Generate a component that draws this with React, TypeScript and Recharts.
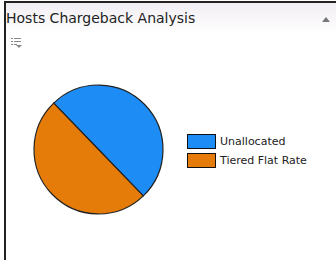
import { PieChart, Pie, Cell, Legend } from "recharts";

const categories = ["Unallocated", "Tiered Flat Rate"];
const values = [50, 50];
const colors = ["#1e8cf5", "#e57c0a"];
const title = "Hosts Chargeback Analysis";

const data = categories.map((name, i) => ({ name, value: values[i] }));

const LegendBox = () => (
  <div style={{ fontFamily: "DejaVu Sans", fontSize: 11, color: "#222" }}>
    {data.map((d, i) => (
      <div
        key={d.name}
        style={{ display: "flex", alignItems: "center", height: 19 }}
      >
        <div
          style={{
            width: 27,
            height: 13,
            background: colors[i],
            border: "1px solid #111",
            marginRight: 4,
          }}
        />
        <span>{d.name}</span>
      </div>
    ))}
  </div>
);

export default function App() {
  return (
    <div
      style={{
        position: "absolute",
        left: 0,
        top: 0,
        width: 336,
        height: 260,
        background: "#fff",
        overflow: "hidden",
      }}
    >
      {/* panel frame */}
      <div
        style={{
          position: "absolute",
          left: 4,
          top: 1,
          width: 332,
          height: 259,
          borderLeft: "2px solid #222",
          borderTop: "2px solid #222",
          boxSizing: "border-box",
        }}
      />
      <div
        style={{
          position: "absolute",
          left: 6,
          top: 3,
          width: 330,
          height: 30,
          background: "linear-gradient(#f1eef3, #ffffff)",
        }}
      />
      <div
        style={{
          position: "absolute",
          left: 6,
          top: 10,
          fontFamily: "DejaVu Sans",
          fontSize: 14,
          color: "#222",
          whiteSpace: "nowrap",
        }}
      >
        {title}
      </div>
      <svg
        style={{ position: "absolute", left: 0, top: 0 }}
        width={336}
        height={60}
      >
        <polygon points="322,22 330,22 326,17" fill="#777" />
        <g fill="#888">
          <rect x={11} y={38} width={2} height={1} />
          <rect x={14} y={38} width={7} height={1} />
          <rect x={11} y={41} width={2} height={1} />
          <rect x={14} y={41} width={7} height={1} />
          <rect x={11} y={44} width={2} height={1} />
          <rect x={14} y={44} width={3} height={1} />
          <polygon points="16,45 22,45 19,48" />
        </g>
      </svg>
      <div style={{ position: "absolute", left: 0, top: 0 }}>
        <PieChart
          width={336}
          height={260}
          margin={{ top: 0, right: 0, bottom: 0, left: 0 }}
        >
          <Pie
            data={data}
            dataKey="value"
            nameKey="name"
            cx={98.5}
            cy={149.5}
            outerRadius={64.5}
            startAngle={-46}
            endAngle={314}
            stroke="#222"
            strokeWidth={1.2}
            isAnimationActive={false}
          >
            {data.map((d, i) => (
              <Cell key={d.name} fill={colors[i]} />
            ))}
          </Pie>
          <Legend
            content={<LegendBox />}
            wrapperStyle={{ position: "absolute", left: 187, top: 132, width: 140 }}
          />
        </PieChart>
      </div>
    </div>
  );
}
